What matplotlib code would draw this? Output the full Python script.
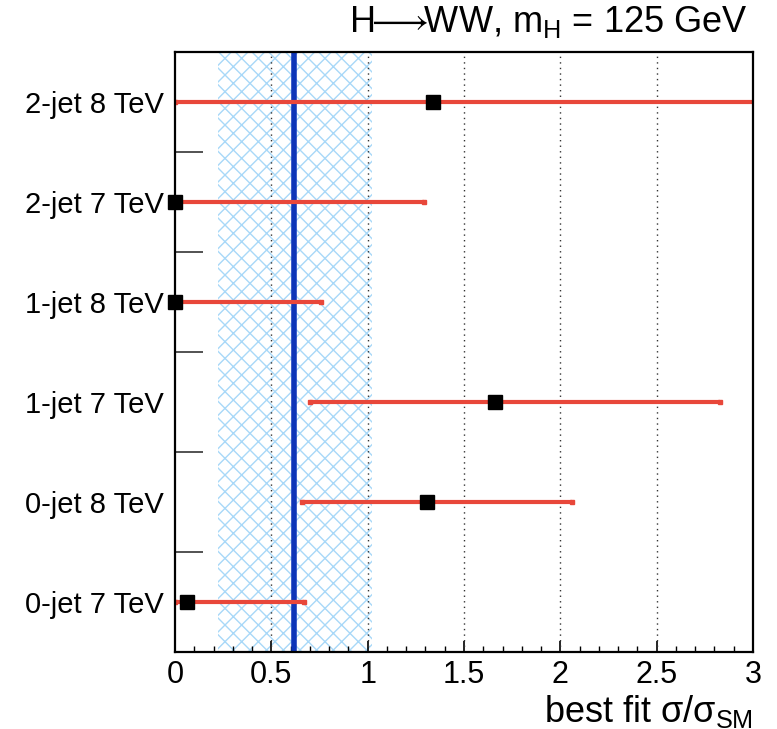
import matplotlib
matplotlib.use("Agg")
import matplotlib.pyplot as plt
import numpy as np

plt.rcParams["font.family"] = ["Liberation Sans", "DejaVu Sans"]
plt.rcParams["mathtext.fontset"] = "custom"
plt.rcParams["mathtext.rm"] = "Liberation Sans"
plt.rcParams["mathtext.it"] = "Liberation Sans"
plt.rcParams["hatch.linewidth"] = 1.0

# categories bottom -> top
categories = ["0-jet 7 TeV", "0-jet 8 TeV", "1-jet 7 TeV",
              "1-jet 8 TeV", "2-jet 7 TeV", "2-jet 8 TeV"]
best_fit = [0.06, 1.31, 1.66, 0.0, 0.0, 1.34]
err_low = [0.0, 0.66, 0.70, 0.0, 0.0, 0.0]
err_high = [0.67, 2.06, 2.83, 0.76, 1.29, 3.2]

combined = 0.62
combined_low = 0.223
combined_high = 1.02

fig = plt.figure(figsize=(7.77, 7.29), dpi=100)
ax = fig.add_axes([0.2252, 0.1056, 0.7439, 0.8230])

ax.set_xlim(0, 3)
ax.set_ylim(0, len(categories))

ax.axvspan(combined_low, combined_high, facecolor="none", edgecolor="#a8d8f8",
           hatch="xx", linewidth=0, zorder=1)
for gx in [0.5, 1.0, 1.5, 2.0, 2.5]:
    ax.axvline(gx, color="#333333", linestyle=(0, (1, 3)), linewidth=1.0, zorder=2)
ax.axvline(combined, color="#0d35b8", linewidth=4, zorder=3)

y = np.arange(len(categories)) + 0.5
for yi, b, lo, hi in zip(y, best_fit, err_low, err_high):
    ax.plot([lo, hi], [yi, yi], color="#e8473a", linewidth=3, zorder=4,
            solid_capstyle="butt", clip_on=True)
    ax.plot([lo, hi], [yi, yi], color="#e8473a", linestyle="none", marker="s",
            markersize=3.5, zorder=4, clip_on=True)
    ax.plot(b, yi, marker="s", color="black", markersize=9.5, zorder=5,
            clip_on=False)

ax.set_yticks(y)
ax.set_yticklabels(categories, fontsize=21)
ax.set_yticks(np.arange(1, len(categories)), minor=True)
ax.tick_params(axis="y", which="major", length=0, pad=8)
ax.tick_params(axis="y", which="minor", direction="in", length=20,
               width=1.3, color="#444444")

ax.set_xticks(np.arange(0, 3.01, 0.5))
ax.set_xticklabels(["0", "0.5", "1", "1.5", "2", "2.5", "3"], fontsize=22)
ax.set_xticks(np.arange(0, 3.01, 0.1), minor=True)
ax.tick_params(axis="x", which="major", direction="in", length=8, width=1.2, pad=6)
ax.tick_params(axis="x", which="minor", direction="in", length=4, width=1.0)

for s in ax.spines.values():
    s.set_linewidth(1.6)
    s.set_zorder(6)

ax.set_xlabel(r"best fit $\sigma/\sigma_{\rm SM}$", fontsize=26, loc="right",
              labelpad=2)
fig.text(0.962, 0.945, r"H$\!\!\longrightarrow\!\!$WW, m$_{\rm H}$ = 125 GeV",
         fontsize=26, ha="right", va="bottom")

fig.savefig("out.png", dpi=100)
